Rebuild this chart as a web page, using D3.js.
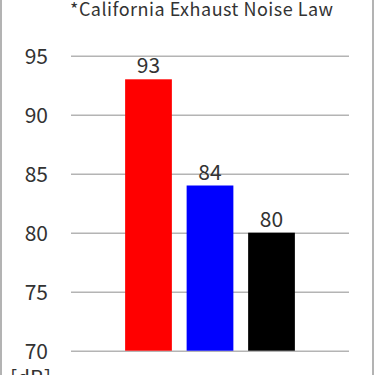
<!DOCTYPE html>
<html>
<head>
<meta charset="utf-8">
<script src="https://cdn.jsdelivr.net/npm/d3@7"></script>
<style>
  body { margin: 0; background: #fff; }
  text { font-family: "Noto Sans CJK JP", "DejaVu Sans", sans-serif; fill: #333; }
</style>
</head>
<body>
<div id="chart"></div>
<script>
var categories = ["A", "B", "C"];
var values = [93, 84, 80];
var barColors = ["#ff0000", "#0000ff", "#000000"];
var yTicks = [70, 75, 80, 85, 90, 95];
var title = "*California Exhaust Noise Law";
var unit = "[dB]";

var width = 375;
var height = 375;
var plotLeft = 71, plotRight = 349, plotTop = 55.7, plotBottom = 350.7;

var svg = d3.select("#chart")
    .append("svg")
        .attr("width", width)
        .attr("height", height);

// frame on the sides
svg.append("line")
    .attr("x1", 1).attr("x2", 1).attr("y1", 0).attr("y2", height)
    .attr("stroke", "#9a9a9a").attr("stroke-width", 1.5);
svg.append("line")
    .attr("x1", 373).attr("x2", 373).attr("y1", 0).attr("y2", height)
    .attr("stroke", "#9a9a9a").attr("stroke-width", 1.5);

var xScale = d3.scaleBand()
    .domain(categories)
    .range([plotLeft, plotRight])
    .paddingInner(0.24)
    .paddingOuter(0.88);

var yScale = d3.scaleLinear()
    .domain([70, 95])
    .range([plotBottom, plotTop]);

// grid
svg.append("g")
        .attr("class", "grid")
        .attr("transform", "translate(" + plotLeft + ",0)")
    .call(d3.axisLeft(yScale)
        .tickValues(yTicks)
        .tickSize(-(plotRight - plotLeft))
        .tickFormat(""))
    .call(function (g) {
        g.select(".domain").remove();
        g.selectAll("line").attr("stroke", "#b4b4b4").attr("stroke-width", 1.5);
    });

// y labels
svg.append("g")
        .attr("transform", "translate(48,0)")
    .call(d3.axisLeft(yScale).tickValues(yTicks).tickSize(0).tickPadding(0))
    .call(function (g) {
        g.select(".domain").remove();
        g.selectAll("text")
            .attr("font-size", 21)
            .attr("dy", "0.36em")
            .style("font-family", "\"Noto Sans CJK JP\", \"DejaVu Sans\", sans-serif")
            .attr("fill", "#333");
    });

svg.selectAll("rect.bar")
    .data(values)
    .enter()
    .append("rect")
        .attr("class", "bar")
        .attr("x", function (d, i) { return xScale(categories[i]); })
        .attr("width", xScale.bandwidth())
        .attr("y", function (d) { return yScale(d); })
        .attr("height", function (d) { return yScale(70) - yScale(d); })
        .attr("fill", function (d, i) { return barColors[i]; });

svg.selectAll("text.val")
    .data(values)
    .enter()
    .append("text")
        .attr("class", "val")
        .attr("text-anchor", "middle")
        .attr("font-size", 21)
        .attr("x", function (d, i) { return xScale(categories[i]) + xScale.bandwidth() / 2; })
        .attr("y", function (d) { return yScale(d) - 6; })
        .text(function (d) { return d; });

svg.append("text")
    .attr("x", 70)
    .attr("y", 16)
    .attr("font-size", 18)
    .attr("textLength", 263)
    .attr("lengthAdjust", "spacing")
    .text(title);

svg.append("text")
    .attr("x", 10)
    .attr("y", 386)
    .attr("font-size", 21)
    .text(unit);
</script>
</body>
</html>
